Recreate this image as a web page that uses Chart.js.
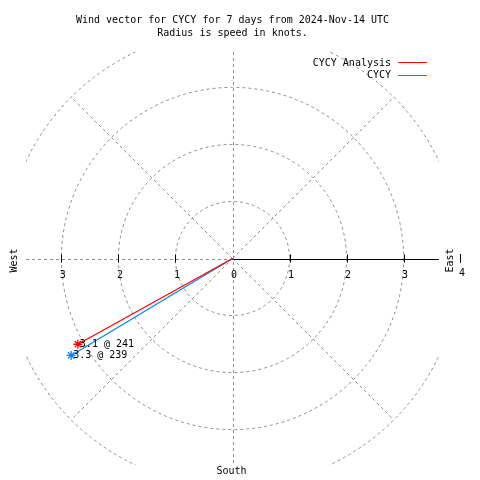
<!DOCTYPE html>
<html>
<head>
<meta charset="utf-8">
<script src="https://cdn.jsdelivr.net/npm/chart.js@4/dist/chart.umd.min.js"></script>
<style>
html,body{margin:0;padding:0;background:#fff;}
#wrap{width:480px;height:480px;}
</style>
</head>
<body>
<div id="wrap"><canvas id="c" width="480" height="480"></canvas></div>
<script>
const titleLines = ['Wind vector for CYCY for 7 days from 2024-Nov-14 UTC', 'Radius is speed in knots.'];
const seriesNames = ['CYCY Analysis', 'CYCY'];
const speeds = [3.1, 3.3];
const directions = [241, 239];
const ringValues = [1, 2, 3, 4];
const tickValues = [-3, -2, -1, 0, 1, 2, 3];
const tickLabels = ['3', '2', '1', '0', '1', '2', '3'];
const compassLabels = ['West', 'East', 'South'];
const axisLimit = 3.62;

const FONT = '10px "DejaVu Sans Mono", "Liberation Mono", monospace';
const seriesColors = ['#ff0000', '#0a80f0'];

function endPoint(s, d) {
  const r = d * Math.PI / 180;
  return { x: s * Math.sin(r), y: s * Math.cos(r) };
}

const datasets = seriesNames.map((name, i) => ({
  label: name,
  data: [{ x: 0, y: 0 }, endPoint(speeds[i], directions[i])],
  showLine: true,
  borderColor: seriesColors[i],
  backgroundColor: seriesColors[i],
  borderWidth: 1.2,
  pointStyle: 'star',
  pointRadius: [0, 4.5],
  pointBorderWidth: 1.3,
  pointBorderColor: seriesColors[i],
  pointHoverRadius: 0
}));

const polarGrid = {
  id: 'polarGrid',
  beforeDatasetsDraw(chart) {
    const { ctx, chartArea: a, scales: { x, y } } = chart;
    const cx = x.getPixelForValue(0), cy = y.getPixelForValue(0);
    const unit = x.getPixelForValue(1) - cx;
    ctx.save();
    ctx.beginPath();
    ctx.rect(a.left, a.top, a.right - a.left, a.bottom - a.top);
    ctx.clip();
    ctx.strokeStyle = '#8c8c8c';
    ctx.lineWidth = 1;
    ctx.setLineDash([3, 3]);
    ringValues.forEach(v => {
      ctx.beginPath();
      ctx.arc(cx, cy, v * unit, 0, Math.PI * 2);
      ctx.stroke();
    });
    const rmax = ringValues[ringValues.length - 1] * unit;
    [45, 135, 225, 315].forEach(deg => {
      const t = deg * Math.PI / 180;
      ctx.beginPath();
      ctx.moveTo(cx, cy);
      ctx.lineTo(cx + rmax * Math.sin(t), cy - rmax * Math.cos(t));
      ctx.stroke();
    });
    ctx.beginPath();
    ctx.moveTo(Math.round(cx) + 0.5, a.top);
    ctx.lineTo(Math.round(cx) + 0.5, a.bottom);
    ctx.moveTo(a.left, Math.round(cy) + 0.5);
    ctx.lineTo(cx, Math.round(cy) + 0.5);
    ctx.stroke();
    ctx.setLineDash([]);
    ctx.strokeStyle = '#000';
    ctx.beginPath();
    ctx.moveTo(cx, Math.round(cy) + 0.5);
    ctx.lineTo(a.right, Math.round(cy) + 0.5);
    ctx.stroke();
    tickValues.forEach(v => {
      if (v === 0) return;
      const px = Math.round(x.getPixelForValue(v)) + 0.5;
      ctx.beginPath();
      ctx.moveTo(px, cy - 4);
      ctx.lineTo(px, cy + 4);
      ctx.stroke();
    });
    ctx.restore();

    ctx.save();
    ctx.font = FONT;
    ctx.fillStyle = '#000';
    ctx.textAlign = 'center';
    ctx.textBaseline = 'middle';
    tickValues.forEach((v, i) => {
      ctx.fillText(tickLabels[i], x.getPixelForValue(v) + 1.5, cy + 17);
    });
    ctx.restore();
  },
  afterDraw(chart) {
    const { ctx, chartArea: a, scales: { x, y } } = chart;
    const cx = x.getPixelForValue(0), cy = y.getPixelForValue(0);
    ctx.save();
    ctx.font = FONT;
    ctx.fillStyle = '#000';
    ctx.textBaseline = 'middle';
    ctx.textAlign = 'center';
    ctx.save();
    ctx.translate(14, cy + 2);
    ctx.rotate(-Math.PI / 2);
    ctx.fillText(compassLabels[0], 0, 0);
    ctx.restore();
    ctx.save();
    ctx.translate(450, cy + 2);
    ctx.rotate(-Math.PI / 2);
    ctx.fillText(compassLabels[1], 0, 0);
    ctx.restore();
    ctx.beginPath();
    ctx.strokeStyle = '#000';
    ctx.lineWidth = 1;
    ctx.moveTo(460.5, 254);
    ctx.lineTo(460.5, 263);
    ctx.stroke();
    ctx.fillText(String(ringValues[ringValues.length - 1]), 462, 273);
    ctx.fillText(compassLabels[2], cx - 1, 471);
    ctx.textAlign = 'right';
    seriesNames.forEach((n, i) => {
      const ly = 63 + i * 12.5;
      ctx.fillStyle = '#000';
      ctx.fillText(n, 391, ly);
      ctx.strokeStyle = seriesColors[i];
      ctx.beginPath();
      ctx.moveTo(398, Math.round(ly) - 0.5);
      ctx.lineTo(427, Math.round(ly) - 0.5);
      ctx.stroke();
    });
    ctx.textAlign = 'left';
    ctx.fillStyle = '#000';
    chart.data.datasets.forEach((ds, i) => {
      const el = chart.getDatasetMeta(i).data[1];
      ctx.fillText(speeds[i].toFixed(1) + ' @ ' + directions[i], el.x + 2, el.y);
    });
    ctx.restore();
  }
};

new Chart(document.getElementById('c'), {
  type: 'scatter',
  data: { datasets },
  options: {
    responsive: false,
    animation: false,
    layout: { padding: { left: 26, right: 41, top: 0, bottom: 15 } },
    scales: {
      x: { type: 'linear', min: -axisLimit, max: axisLimit, display: false },
      y: { type: 'linear', min: -axisLimit, max: axisLimit, display: false }
    },
    plugins: {
      legend: { display: false },
      tooltip: { enabled: false },
      title: {
        display: true,
        text: titleLines,
        color: '#000',
        font: { family: '"DejaVu Sans Mono", "Liberation Mono", monospace', size: 10, weight: 'normal', lineHeight: 1.3 },
        padding: { top: 14, bottom: 12 }
      }
    }
  },
  plugins: [polarGrid]
});
</script>
</body>
</html>
